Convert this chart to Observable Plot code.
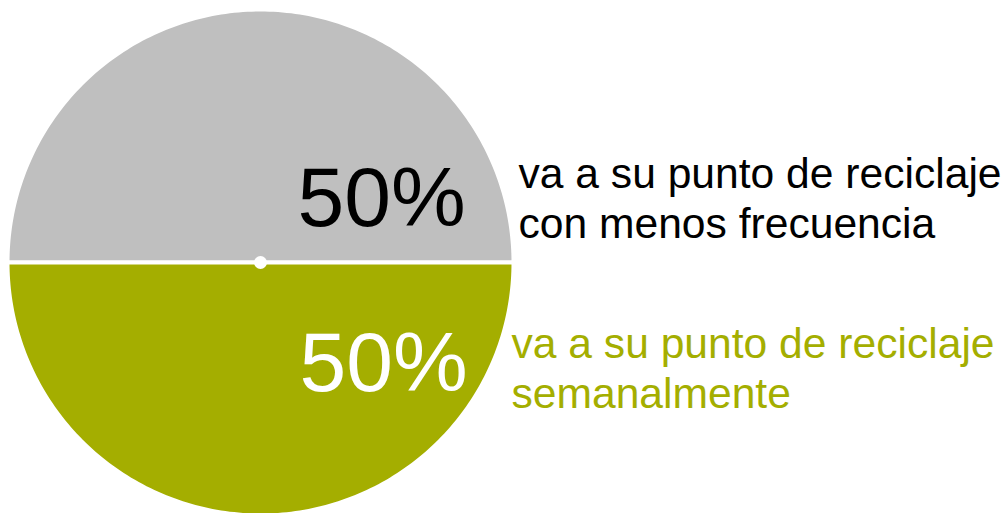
<!DOCTYPE html>
<html>
<head>
<meta charset="utf-8">
<script src="https://cdn.jsdelivr.net/npm/d3@7"></script>
<script src="https://cdn.jsdelivr.net/npm/@observablehq/plot@0.6"></script>
<style>
  html, body { margin: 0; padding: 0; background: #ffffff; }
  #chart svg { display: block; }
</style>
</head>
<body>
<div id="chart"></div>
<script>
// ---- data ----
const categories = ["va a su punto de reciclaje\ncon menos frecuencia", "va a su punto de reciclaje\nsemanalmente"];
const values = [50, 50];
const valueLabels = ["50%", "50%"];
const sliceColors = ["#bfbfbf", "#a4ae00"];
const percentColors = ["#000000", "#ffffff"];
const categoryColors = ["#000000", "#a4ae00"];

// ---- layout ----
const W = 1008, H = 513;
const cx = 260, cy = 262, R = 253;   // pixel geometry of the pie

const pie = d3.pie().sort(null).startAngle(-Math.PI / 2).endAngle(1.5 * Math.PI)(values);

// polygon outlines of the slices in unit (data) coordinates
const slicePts = [];
pie.forEach((p, i) => {
  slicePts.push({s: i, x: 0, y: 0});
  const n = 180;
  for (let k = 0; k <= n; k++) {
    const a = p.startAngle + (p.endAngle - p.startAngle) * k / n;
    slicePts.push({s: i, x: Math.sin(a), y: Math.cos(a)});
  }
  slicePts.push({s: i, x: 0, y: 0});
});

const px2x = px => (px - cx) / R;
const py2y = py => (cy - py) / R;

// label placement relative to each slice
const pctPos = [{x: px2x(297), y: py2y(166)}, {x: px2x(299), y: py2y(331)}];
const catPos = [{x: px2x(518), y: py2y(152)}, {x: px2x(511), y: py2y(322)}];

const pctData = pie.map((p, i) => ({...pctPos[i], text: valueLabels[i], c: percentColors[i]}));
const catData = pie.map((p, i) => ({...catPos[i], text: categories[i], c: categoryColors[i]}));

const font = "'Liberation Sans', Arial, Helvetica, sans-serif";

const chart = Plot.plot({
  width: W,
  height: H,
  margin: 0,
  x: {domain: [px2x(0), px2x(W)], axis: null},
  y: {domain: [py2y(H), py2y(0)], axis: null},
  style: {fontFamily: font, background: "#ffffff"},
  marks: [
    Plot.line(slicePts, {
      x: "x", y: "y", z: "s",
      fill: d => sliceColors[d.s],
      stroke: "#ffffff", strokeWidth: 4, strokeLinejoin: "round",
      curve: "linear-closed"
    }),
    Plot.dot([{x: 0, y: 0}], {x: "x", y: "y", r: 6.5, fill: "#ffffff", stroke: null}),
    Plot.text(pctData, {
      x: "x", y: "y", text: "text", fill: "c",
      fontSize: 84, textAnchor: "start", lineAnchor: "top", fontFamily: font
    }),
    Plot.text(catData, {
      x: "x", y: "y", text: "text", fill: "c",
      fontSize: 42.6, textAnchor: "start", lineAnchor: "top", lineHeight: 50 / 42.6, fontFamily: font
    })
  ]
});

document.getElementById("chart").appendChild(chart);
</script>
</body>
</html>
